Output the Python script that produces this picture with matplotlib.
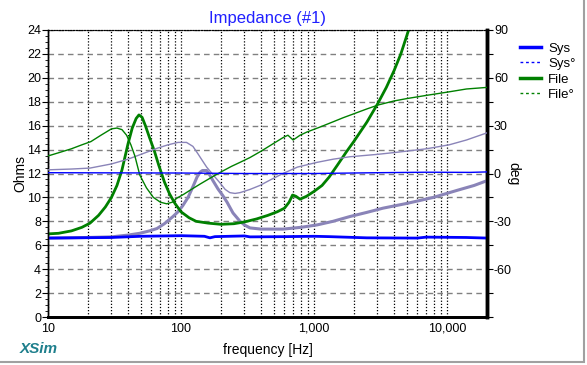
import matplotlib.pyplot as plt
from matplotlib.lines import Line2D
from matplotlib.patches import Rectangle
from matplotlib.ticker import FixedLocator, NullFormatter, FuncFormatter

plt.rcParams['font.family'] = ['Liberation Sans', 'DejaVu Sans']

# Sys impedance (Ohms) and phase (deg)
sys_freq = [10, 30, 50, 100, 150, 165, 180, 300, 330, 600, 1000, 1300, 2500, 6000, 7000, 14000, 20000]
sys_ohm = [6.6, 6.65, 6.75, 6.8, 6.75, 6.62, 6.72, 6.78, 6.7, 6.72, 6.75, 6.72, 6.62, 6.6, 6.68, 6.65, 6.6]
sys_deg_freq = [10, 100, 300, 1000, 3000, 7000, 15000, 20000]
sys_deg = [0.5, 0.3, 0.0, 0.0, 0.5, 0.8, 0.7, 1.0]

# File impedance (Ohms)
file_freq = [10, 12, 15, 18, 20.7, 24, 27, 30, 33, 36, 40, 43, 46, 48.3, 51, 54, 58, 63, 68, 75, 82,
             90, 100, 115, 130, 160, 200, 250, 300, 370, 450, 530, 600, 650, 690, 730, 786, 880,
             1000, 1150, 1300, 1500, 1750, 2000, 2500, 3000, 3500, 4000, 4500, 5080, 5500]
file_ohm = [6.95, 7.0, 7.2, 7.5, 7.85, 8.5, 9.2, 10.0, 11.0, 12.3, 14.5, 15.8, 16.6, 16.9, 16.7, 16.0,
            15.0, 13.9, 12.7, 11.3, 10.3, 9.5, 8.8, 8.3, 8.0, 7.85, 7.75, 7.8, 7.95, 8.2, 8.5, 8.8,
            9.1, 9.6, 10.2, 10.1, 9.85, 10.1, 10.5, 11.0, 11.7, 12.7, 13.8, 14.7, 16.3, 17.8, 19.2,
            20.6, 22.0, 23.8, 25.0]

# File phase (deg)
file_deg_freq = [10, 12, 15, 18, 21, 25, 30, 33, 36, 39, 42, 45, 49, 55, 62, 70, 78, 86, 93, 105,
                 117, 140, 165, 200, 240, 278, 330, 400, 500, 585, 637, 697, 786, 884, 1100, 1400,
                 1660, 2000, 2500, 3047, 4000, 5000, 7000, 10000, 14000, 20000]
file_deg = [11, 13, 15.5, 18, 20, 24, 28, 28.5, 27.5, 24, 18, 11, -1, -9, -15, -18, -19, -18, -15.5,
            -13, -10.5, -6.5, -3, 1, 4.5, 7, 10, 14, 19, 22.5, 24, 21, 24, 26, 29, 32.5, 35, 37.5,
            40.5, 43, 45.5, 47, 49, 51, 53, 54]

# Reference curves (lavender), impedance and phase
ref_freq = [10, 20, 30, 40, 49, 58, 66, 75, 87, 95, 103, 113, 123, 132, 139, 145, 156, 162, 174,
            190, 205, 222, 246, 278, 300, 330, 400, 585, 800, 1055, 1389, 1860, 2500, 3300, 5000,
            7900, 12000, 16000, 20000]
ref_ohm = [6.6, 6.65, 6.7, 6.85, 7.0, 7.2, 7.4, 7.8, 8.4, 8.8, 9.3, 10.0, 10.9, 11.7, 12.1, 12.25,
           12.25, 12.0, 11.4, 10.7, 10.2, 9.6, 8.7, 8.0, 7.7, 7.45, 7.35, 7.35, 7.5, 7.7, 8.0, 8.4,
           8.75, 9.1, 9.5, 10.0, 10.6, 11.0, 11.4]
ref_deg_freq = [10, 15, 20.7, 30, 40, 50, 66, 80, 95, 110, 123, 135, 145, 156, 175, 197, 215, 233,
                255, 278, 330, 392, 470, 585, 750, 1055, 1400, 1860, 3000, 4400, 7000, 10400,
                14000, 20000]
ref_deg = [2.3, 2.8, 3.4, 6, 9, 12, 15.8, 18, 19.5, 19.5, 17, 12, 8, 4, -1, -6, -10, -12, -12.5,
           -12, -10, -7.5, -4, 0, 4, 7, 9, 10.5, 12, 13.5, 15.5, 18, 21, 25.5]

blue = '#0000FF'
green = '#008000'
lavender = '#8A84B8'

fig = plt.figure(figsize=(5.87, 3.65), dpi=100)
ax = fig.add_axes([48 / 587, 48 / 365, 439 / 587, 287 / 365])
ax2 = ax.twinx()

ax.plot(ref_freq, ref_ohm, color=lavender, lw=2.2, zorder=3)
ax2.plot(ref_deg_freq, ref_deg, color=lavender, lw=1, zorder=3)
ax2.plot(file_deg_freq, file_deg, color=green, lw=1, zorder=4)
ax2.plot(sys_deg_freq, sys_deg, color=blue, lw=1, zorder=4)
ax.plot(file_freq, file_ohm, color=green, lw=2, zorder=4)
ax.plot(sys_freq, sys_ohm, color=blue, lw=2, zorder=5)

ax.set_xscale('log')
ax.set_xlim(10, 20000)
ax.set_ylim(0, 24)
ax2.set_ylim(-90, 90)

ax.set_yticks(range(0, 25, 2))
ax.yaxis.set_minor_locator(FixedLocator([v * 0.5 for v in range(0, 49)]))
ax.tick_params(axis='y', which='major', length=4, labelsize=9, pad=1)
ax.tick_params(axis='y', which='minor', length=2)
ax.set_xticks([10, 100, 1000, 10000])
ax.xaxis.set_major_formatter(FuncFormatter(lambda v, p: f'{int(v):,}'))
ax.xaxis.set_minor_formatter(NullFormatter())
ax.tick_params(axis='x', which='both', length=0, labelsize=9, pad=4)

ax2.set_yticks(range(-90, 91, 15))
ax2.yaxis.set_major_formatter(FuncFormatter(lambda v, p: f'{int(v)}' if int(v) % 30 == 0 and v > -90 else ''))
ax2.tick_params(axis='y', length=4, labelsize=9, pad=1)

ax.grid(True, which='major', axis='y', color='#808080', linestyle=(0, (4, 3)), lw=1)
ax.grid(True, which='both', axis='x', color='black', linestyle=(0, (1, 1.5)), lw=0.9)

for a in (ax, ax2):
    a.spines['top'].set_linestyle((0, (1, 1.5)))
    a.spines['left'].set_linewidth(1)
    a.spines['bottom'].set_linewidth(2)
    a.spines['right'].set_linewidth(2.5)

ax.set_ylabel('Ohms', fontsize=10, va='center')
ax.yaxis.set_label_coords(-28 / 439, 0.5)
ax2.set_ylabel('deg', fontsize=10, rotation=270, va='center')
ax2.yaxis.set_label_coords(1 + 26 / 439, 0.5)
ax.set_xlabel('frequency [Hz]', fontsize=10, labelpad=6)
ax.set_title('Impedance (#1)', color='#2020FF', fontsize=12, pad=5)

handles = [Line2D([], [], color=blue, lw=2.5),
           Line2D([], [], color=blue, lw=1, linestyle=(0, (2, 2))),
           Line2D([], [], color=green, lw=2.5),
           Line2D([], [], color=green, lw=1, linestyle=(0, (2, 2)))]
fig.legend(handles, ['Sys', 'Sys°', 'File', 'File°'], loc='upper left',
           bbox_to_anchor=(515 / 587, 1 - 37 / 365), frameon=False, fontsize=9.5,
           handlelength=1.6, handletextpad=0.5, labelspacing=0.25, borderaxespad=0)

fig.text(20 / 587, 1 - 349 / 365, 'XSim', color='#1E7F8C', fontsize=11,
         fontweight='bold', style='italic', va='center')
fig.patches.append(Rectangle((-0.01, 3 / 365), 1 - 3 / 587 + 0.01, 1.0, transform=fig.transFigure,
                             fill=False, edgecolor='#A0A0A0', lw=1.5))

fig.savefig('out.png', dpi=100)
